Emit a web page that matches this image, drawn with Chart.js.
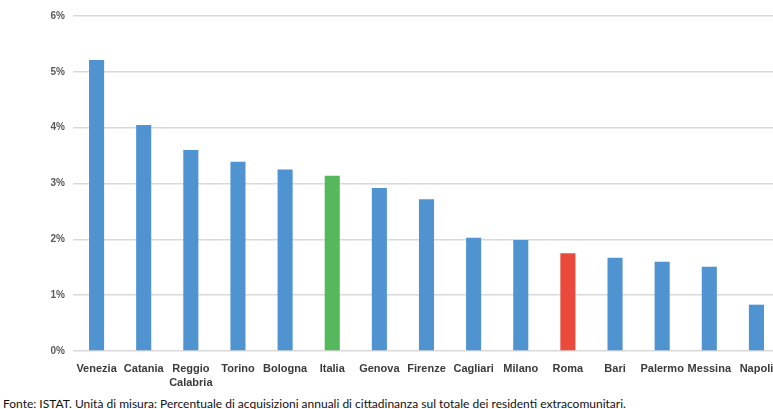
<!DOCTYPE html>
<html>
<head>
<meta charset="utf-8">
<script src="https://cdn.jsdelivr.net/npm/chart.js@4/dist/chart.umd.min.js"></script>
<style>
  html, body { margin: 0; padding: 0; background: #fff; overflow: hidden; }
  #wrap { position: relative; width: 780px; height: 392px; }
  #note { position: absolute; left: 3px; top: 396px; font-family: Lato, "Open Sans", sans-serif; font-size: 12px; color: #111; white-space: nowrap; }
</style>
</head>
<body>
<div id="wrap"><canvas id="acqChart"></canvas></div>
<div id="note">Fonte: ISTAT. Unità di misura: Percentuale di acquisizioni annuali di cittadinanza sul totale dei residenti extracomunitari.</div>
<script>
// categories and values (% of non-EU residents)
var cities = ["Venezia", "Catania", ["Reggio", "Calabria"], "Torino", "Bologna", "Italia", "Genova", "Firenze",
              "Cagliari", "Milano", "Roma", "Bari", "Palermo", "Messina", "Napoli"];
var shares = [5.21, 4.05, 3.60, 3.39, 3.25, 3.14, 2.92, 2.72, 2.03, 1.99, 1.75, 1.67, 1.60, 1.51, 0.83];
var yTicks = [0, 1, 2, 3, 4, 5, 6];

var blue = "#4f94d0", green = "#55b85c", red = "#ea4a3c";
var barColors = cities.map(function (c) {
  if (c === "Italia") return green;
  if (c === "Roma") return red;
  return blue;
});

var ctx = document.getElementById('acqChart');
var chart = new Chart(ctx, {
  type: "bar",
  data: {
    labels: cities,
    datasets: [{
      data: shares,
      backgroundColor: barColors,
      categoryPercentage: 1,
      barPercentage: 0.32
    }]
  },
  options: {
    responsive: true,
    maintainAspectRatio: false,
    animation: false,
    layout: { padding: { top: 16, left: 0, right: 0, bottom: 0 } },
    plugins: { legend: { display: false }, tooltip: { enabled: false } },
    scales: {
      x: {
        grid: { display: false },
        border: { display: false },
        ticks: {
          autoSkip: false, maxRotation: 0, padding: 3,
          color: "#3a3a3a",
          font: { family: "Arial, 'Liberation Sans'", size: 11, weight: "bold", lineHeight: 1.25 }
        },
        afterFit: function (scale) { scale.height = 41; }
      },
      y: {
        min: 0, max: 6,
        afterBuildTicks: function (scale) {
          scale.ticks = yTicks.map(function (v) { return { value: v }; });
        },
        grid: { color: "#d9d9d9", lineWidth: 1.5, drawTicks: false },
        border: { display: false },
        ticks: {
          padding: 8,
          color: "#595959",
          font: { family: "Arial, 'Liberation Sans'", size: 10, weight: "bold" },
          callback: function (v) { return v + "%"; }
        },
        afterFit: function (scale) { scale.width = 73; }
      }
    }
  }
});
</script>
</body>
</html>
